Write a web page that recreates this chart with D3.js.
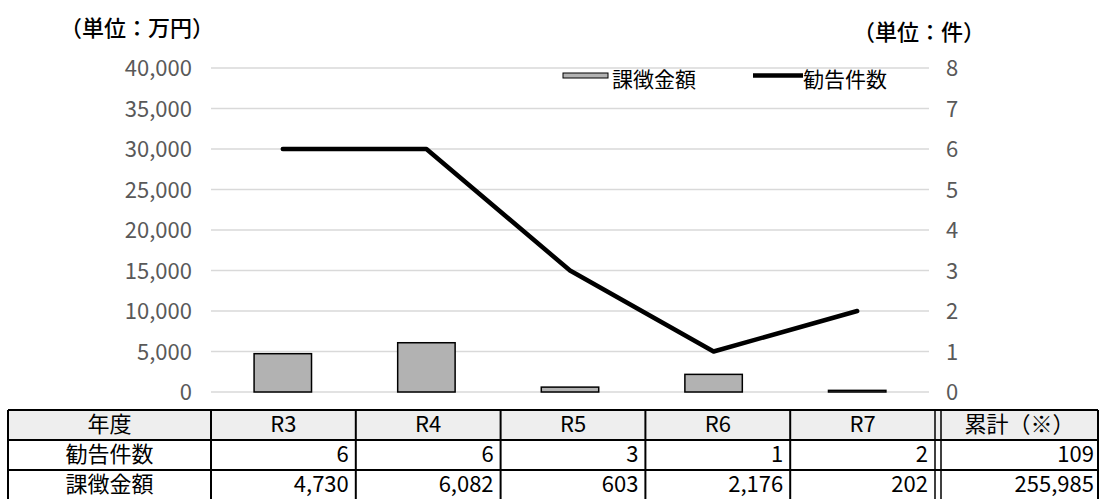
<!DOCTYPE html>
<html>
<head>
<meta charset="utf-8">
<script src="https://cdn.jsdelivr.net/npm/d3@7"></script>
<style>
body { margin: 0; background: #fff; }
text { font-family: "Noto Sans CJK JP", "Noto Sans", sans-serif; }
</style>
</head>
<body>
<svg id="chart"></svg>
<script>
// data
var years = ["R3", "R4", "R5", "R6", "R7"];
var kankokuCount = [6, 6, 3, 1, 2];
var kachokinAmount = [4730, 6082, 603, 2176, 202];
var rowLabels = ["年度", "勧告件数", "課徴金額"];
var totalLabel = "累計（※）";
var totalCount = 109;
var totalAmount = 255985;
var leftTicks = [0, 5000, 10000, 15000, 20000, 25000, 30000, 35000, 40000];
var rightTicks = [0, 1, 2, 3, 4, 5, 6, 7, 8];

var screen = {width: 1102, height: 499};
var plot = {left: 211, right: 929, top: 68, bottom: 392};

var svg = d3.select("#chart")
    .attr("width", screen.width)
    .attr("height", screen.height);

var xScale = d3.scaleBand()
    .domain(years)
    .range([plot.left, plot.right]);

var yLeft = d3.scaleLinear()
    .domain([0, 40000])
    .range([plot.bottom, plot.top]);

var yRight = d3.scaleLinear()
    .domain([0, 8])
    .range([plot.bottom, plot.top]);

var fmt = d3.format(",");

// gridlines
svg.append("g")
    .selectAll("line")
    .data(leftTicks)
    .enter()
    .append("line")
    .attr("x1", plot.left)
    .attr("x2", plot.right)
    .attr("y1", function(d) { return yLeft(d); })
    .attr("y2", function(d) { return yLeft(d); })
    .attr("stroke", "#d9d9d9")
    .attr("stroke-width", 1.5);

// left axis labels
svg.append("g")
    .selectAll("text")
    .data(leftTicks)
    .enter()
    .append("text")
    .text(function(d) { return fmt(d); })
    .attr("x", 192)
    .attr("y", function(d) { return yLeft(d) + 8; })
    .attr("text-anchor", "end")
    .attr("font-size", 22)
    .attr("fill", "#595959");

// right axis labels
svg.append("g")
    .selectAll("text")
    .data(rightTicks)
    .enter()
    .append("text")
    .text(function(d) { return d; })
    .attr("x", 946)
    .attr("y", function(d) { return yRight(d) + 8; })
    .attr("font-size", 22)
    .attr("fill", "#595959");

// unit labels
svg.append("text")
    .text("（単位：万円）")
    .attr("x", 60)
    .attr("y", 36)
    .attr("font-size", 22)
    .attr("font-weight", 500)
    .attr("fill", "#000");

svg.append("text")
    .text("（単位：件）")
    .attr("x", 853)
    .attr("y", 40)
    .attr("font-size", 22)
    .attr("font-weight", 500)
    .attr("fill", "#000");

// bars
var barWidth = xScale.bandwidth() * 0.4;
svg.append("g")
    .selectAll("rect")
    .data(kachokinAmount)
    .enter()
    .append("rect")
    .attr("x", function(d, i) { return xScale(years[i]) + xScale.bandwidth() / 2 - barWidth / 2; })
    .attr("y", function(d) { return yLeft(d); })
    .attr("width", barWidth)
    .attr("height", function(d) { return plot.bottom - yLeft(d); })
    .attr("fill", "#b2b2b2")
    .attr("stroke", "#000")
    .attr("stroke-width", 1.5);

// line
var line = d3.line()
    .x(function(d, i) { return xScale(years[i]) + xScale.bandwidth() / 2; })
    .y(function(d) { return yRight(d); });

svg.append("path")
    .datum(kankokuCount)
    .attr("d", line)
    .attr("fill", "none")
    .attr("stroke", "#000")
    .attr("stroke-width", 4.5)
    .attr("stroke-linecap", "round")
    .attr("stroke-linejoin", "round");

// legend
var legend = svg.append("g");
legend.append("rect")
    .attr("x", 563)
    .attr("y", 73)
    .attr("width", 45)
    .attr("height", 5)
    .attr("fill", "#b2b2b2")
    .attr("stroke", "#000")
    .attr("stroke-width", 1);
legend.append("text")
    .text("課徴金額")
    .attr("x", 612)
    .attr("y", 87)
    .attr("font-size", 21);
legend.append("line")
    .attr("x1", 753)
    .attr("x2", 803)
    .attr("y1", 75.5)
    .attr("y2", 75.5)
    .attr("stroke", "#000")
    .attr("stroke-width", 4.5);
legend.append("text")
    .text("勧告件数")
    .attr("x", 803)
    .attr("y", 87)
    .attr("font-size", 21);

// table under the chart
var table = {left: 8, labelRight: 211, yearsRight: 935, totalLeft: 941, right: 1098, top: 410, rowH: 30};
var colScale = d3.scaleBand()
    .domain(years)
    .range([table.labelRight, table.yearsRight]);

var rowTop = function(i) { return table.top + i * table.rowH; };
var tableBottom = screen.height;
var textOff = 22;
var tableFont = 22;

var tg = svg.append("g");

// header background
tg.append("rect")
    .attr("x", table.left)
    .attr("y", table.top)
    .attr("width", table.right - table.left)
    .attr("height", table.rowH)
    .attr("fill", "#eeeeee");

// horizontal rules
tg.selectAll("line.h")
    .data([0, 1, 2])
    .enter()
    .append("line")
    .attr("x1", table.left)
    .attr("x2", table.right)
    .attr("y1", function(d) { return rowTop(d); })
    .attr("y2", function(d) { return rowTop(d); })
    .attr("stroke", "#000")
    .attr("stroke-width", 2);

// vertical rules
var vx = [table.left, table.labelRight].concat(years.slice(1).map(function(y) { return colScale(y); }))
    .concat([table.yearsRight, table.totalLeft, table.right]);
tg.selectAll("line.v")
    .data(vx)
    .enter()
    .append("line")
    .attr("x1", function(d) { return d; })
    .attr("x2", function(d) { return d; })
    .attr("y1", table.top)
    .attr("y2", tableBottom)
    .attr("stroke", "#000")
    .attr("stroke-width", function(d) { return (d == table.yearsRight || d == table.totalLeft) ? 1.5 : 2; });

// row labels
tg.selectAll("text.row")
    .data(rowLabels)
    .enter()
    .append("text")
    .text(function(d) { return d; })
    .attr("x", (table.left + table.labelRight) / 2)
    .attr("y", function(d, i) { return rowTop(i) + textOff; })
    .attr("text-anchor", "middle")
    .attr("font-size", tableFont);

// header years
tg.selectAll("text.yr")
    .data(years)
    .enter()
    .append("text")
    .text(function(d) { return d; })
    .attr("x", function(d) { return colScale(d) + colScale.bandwidth() / 2; })
    .attr("y", rowTop(0) + textOff)
    .attr("text-anchor", "middle")
    .attr("font-size", tableFont);

tg.append("text")
    .text(totalLabel)
    .attr("x", (table.totalLeft + table.right) / 2)
    .attr("y", rowTop(0) + textOff)
    .attr("text-anchor", "middle")
    .attr("font-size", tableFont);

// count row
tg.selectAll("text.cnt")
    .data(kankokuCount)
    .enter()
    .append("text")
    .text(function(d) { return fmt(d); })
    .attr("x", function(d, i) { return colScale(years[i]) + colScale.bandwidth() - 7; })
    .attr("y", rowTop(1) + textOff)
    .attr("text-anchor", "end")
    .attr("font-size", tableFont);

// amount row
tg.selectAll("text.amt")
    .data(kachokinAmount)
    .enter()
    .append("text")
    .text(function(d) { return fmt(d); })
    .attr("x", function(d, i) { return colScale(years[i]) + colScale.bandwidth() - 7; })
    .attr("y", rowTop(2) + textOff)
    .attr("text-anchor", "end")
    .attr("font-size", tableFont);

tg.append("text")
    .text(fmt(totalCount))
    .attr("x", table.right - 4)
    .attr("y", rowTop(1) + textOff)
    .attr("text-anchor", "end")
    .attr("font-size", tableFont);

tg.append("text")
    .text(fmt(totalAmount))
    .attr("x", table.right - 4)
    .attr("y", rowTop(2) + textOff)
    .attr("text-anchor", "end")
    .attr("font-size", tableFont);
</script>
</body>
</html>
